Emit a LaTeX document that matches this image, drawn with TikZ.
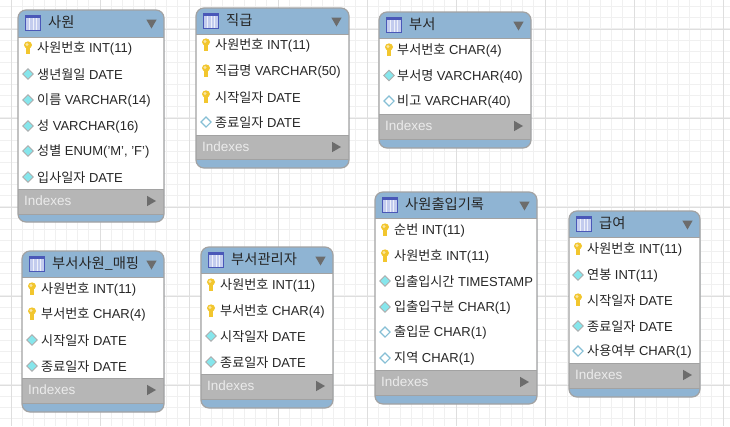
\documentclass[tikz,border=0pt]{standalone}
\usepackage{fontspec}
\setmainfont{Liberation Sans}
\newfontfamily\krfont{Noto Sans CJK KR}
\usetikzlibrary{shapes.geometric,calc}
\definecolor{headblue}{HTML}{8FB4D3}
\definecolor{idxgray}{HTML}{B6B6B6}
\definecolor{framegray}{HTML}{A2A2A2}
\definecolor{markgray}{HTML}{6C6C6C}
\definecolor{keyyellow}{HTML}{F2C62E}
\definecolor{fkcyan}{HTML}{86E6EC}
\definecolor{iconblue}{HTML}{4A58B8}
\definecolor{iconfill}{HTML}{C3CCEE}
\newcommand{\kr}[1]{{\krfont\fontsize{13.1}{15}\selectfont #1}}
\newcommand{\krt}[1]{{\krfont\fontsize{14.3}{15}\selectfont #1}}
\tikzstyle{rowtext}=[anchor=west,inner sep=0pt,text=black!85,yshift=-0.6pt,font=\fontsize{13}{15}\selectfont]
\tikzstyle{titletext}=[anchor=west,inner sep=0pt,text=black!85,font=\fontsize{13.5}{15}\selectfont]
\tikzstyle{idxtext}=[anchor=west,inner sep=0pt,text=white!92!black,font=\fontsize{13.5}{15}\selectfont]
\tikzstyle{fk}=[diamond,draw=black!32,fill=fkcyan,line width=0.9pt,minimum size=11pt,inner sep=0pt]
\tikzstyle{nk}=[diamond,draw=black!30!cyan!55!white,fill=white,line width=1.1pt,minimum size=10.5pt,inner sep=0pt]
\tikzstyle{pk}=[minimum width=10pt,minimum height=14pt,inner sep=0pt,path picture={
  \fill[keyyellow] ([yshift=3pt]path picture bounding box.center) ellipse (4pt and 3.6pt);
  \fill[keyyellow] ([xshift=-2pt,yshift=3pt]path picture bounding box.center) rectangle ([xshift=1.8pt,yshift=-6pt]path picture bounding box.center);
  \fill[white!55!keyyellow] ([xshift=-1pt,yshift=3.5pt]path picture bounding box.center) circle (1.6pt);}]
\tikzstyle{tblicon}=[minimum size=14.5pt,inner sep=0pt,draw=iconblue,fill=iconfill,line width=0.9pt,path picture={
  \fill[iconblue] ([yshift=5pt]path picture bounding box.west) rectangle ([yshift=7.5pt]path picture bounding box.east);
  \foreach \dx in {-3.5,0,3.5}
    \draw[white!70!iconfill,line width=0.7pt] ([xshift=\dx pt,yshift=5pt]path picture bounding box.center) -- ([xshift=\dx pt]path picture bounding box.south);}]
\tikzstyle{downmark}=[regular polygon,regular polygon sides=3,regular polygon rotate=180,fill=markgray,minimum size=12pt,inner sep=0pt]
\tikzstyle{rightmark}=[regular polygon,regular polygon sides=3,regular polygon rotate=-90,fill=markgray,minimum size=12pt,inner sep=0pt]
% name, left, right, top, head end, body end, indexes end, bottom, title
\newcommand{\erbox}[9]{
\fill[headblue,rounded corners=8pt] (#2,#4) rectangle (#3,#8);
\fill[white] (#2,#5) rectangle (#3,#6);
\fill[idxgray] (#2,#6) rectangle (#3,#7);
\draw[framegray,line width=0.8pt] (#2,#5) -- (#3,#5) (#2,#6) -- (#3,#6) (#2,#7) -- (#3,#7);
\draw[framegray,line width=1.2pt,rounded corners=8pt] (#2,#4) rectangle (#3,#8);
\node[tblicon] (#1icon) at ($(#2,#4)+(15,13)$) {};
\node[titletext] (#1title) at ($(#2,#4)+(30,12.5)$) {\krt{#9}};
\node[downmark] (#1down) at ($(#3,#4)+(-12.5,12.5)$) {};
\node[idxtext] (#1idx) at ($(#2,#6)+(6,11.5)$) {Indexes};
\node[rightmark] (#1more) at ($(#3,#6)+(-14,12)$) {};
}
\begin{document}
\begin{tikzpicture}[x=1pt,y=-1pt]
\useasboundingbox (0,0) rectangle (730,426);
\fill[white] (0,0) rectangle (730,426);
% grid
\foreach \i in {0,...,66} \draw[black!6,line width=1pt] (11.125*\i-0.1,0) -- (11.125*\i-0.1,426);
\foreach \j in {0,...,38} \draw[black!6,line width=1pt] (0,11.125*\j-4.4) -- (730,11.125*\j-4.4);
\foreach \i in {0,...,8} \draw[black!13,line width=1pt] (89*\i+11,0) -- (89*\i+11,426);
\foreach \j in {0,...,4} \draw[black!13,line width=1pt] (0,89*\j+29) -- (730,89*\j+29);
% sawon
\erbox{emp}{18}{164}{10}{37}{189}{214}{222}{사원}
\node[pk] (emp1k) at (28,48) {};
\node[rowtext] (emp1) at (37,48) {\kr{사원번호} INT(11)};
\node[fk] (emp2k) at (28,74) {};
\node[rowtext] (emp2) at (37,74) {\kr{생년월일} DATE};
\node[fk] (emp3k) at (28,100) {};
\node[rowtext] (emp3) at (37,100) {\kr{이름} VARCHAR(14)};
\node[fk] (emp4k) at (28,126) {};
\node[rowtext] (emp4) at (37,126) {\kr{성} VARCHAR(16)};
\node[fk] (emp5k) at (28,151) {};
\node[rowtext] (emp5) at (37,151) {\kr{성별} ENUM('M', 'F')};
\node[fk] (emp6k) at (28,177) {};
\node[rowtext] (emp6) at (37,177) {\kr{입사일자} DATE};
% jikgeup
\erbox{job}{196}{349}{8}{34}{135}{159}{168}{직급}
\node[pk] (job1k) at (206,45) {};
\node[rowtext] (job1) at (215,45) {\kr{사원번호} INT(11)};
\node[pk] (job2k) at (206,71) {};
\node[rowtext] (job2) at (215,71) {\kr{직급명} VARCHAR(50)};
\node[pk] (job3k) at (206,97) {};
\node[rowtext] (job3) at (215,97) {\kr{시작일자} DATE};
\node[nk] (job4k) at (206,122) {};
\node[rowtext] (job4) at (215,122) {\kr{종료일자} DATE};
% buseo
\erbox{dep}{379}{531}{12}{38}{114}{139}{148}{부서}
\node[pk] (dep1k) at (389,50) {};
\node[rowtext] (dep1) at (397,50) {\kr{부서번호} CHAR(4)};
\node[fk] (dep2k) at (389,75.5) {};
\node[rowtext] (dep2) at (397,75.5) {\kr{부서명} VARCHAR(40)};
\node[nk] (dep3k) at (389,101) {};
\node[rowtext] (dep3) at (397,101) {\kr{비고} VARCHAR(40)};
% buseo sawon
\erbox{map}{22}{164}{251}{277}{378}{403}{412}{부서사원\_매핑}
\node[pk] (map1k) at (32,289) {};
\node[rowtext] (map1) at (41,289) {\kr{사원번호} INT(11)};
\node[pk] (map2k) at (32,314) {};
\node[rowtext] (map2) at (41,314) {\kr{부서번호} CHAR(4)};
\node[fk] (map3k) at (32,340) {};
\node[rowtext] (map3) at (41,340) {\kr{시작일자} DATE};
\node[fk] (map4k) at (32,366) {};
\node[rowtext] (map4) at (41,366) {\kr{종료일자} DATE};
% buseo gwalli
\erbox{mgr}{201}{333}{247}{273}{374}{399}{408}{부서관리자}
\node[pk] (mgr1k) at (211,285) {};
\node[rowtext] (mgr1) at (220,285) {\kr{사원번호} INT(11)};
\node[pk] (mgr2k) at (211,311) {};
\node[rowtext] (mgr2) at (220,311) {\kr{부서번호} CHAR(4)};
\node[fk] (mgr3k) at (211,336) {};
\node[rowtext] (mgr3) at (220,336) {\kr{시작일자} DATE};
\node[fk] (mgr4k) at (211,362) {};
\node[rowtext] (mgr4) at (220,362) {\kr{종료일자} DATE};
% churip
\erbox{log}{375}{537}{192}{218}{370}{395}{404}{사원출입기록}
\node[pk] (log1k) at (385,230) {};
\node[rowtext] (log1) at (394,230) {\kr{순번} INT(11)};
\node[pk] (log2k) at (385,256) {};
\node[rowtext] (log2) at (394,256) {\kr{사원번호} INT(11)};
\node[fk] (log3k) at (385,281) {};
\node[rowtext] (log3) at (394,281) {\kr{입출입시간} TIMESTAMP};
\node[fk] (log4k) at (385,307) {};
\node[rowtext] (log4) at (394,307) {\kr{입출입구분} CHAR(1)};
\node[nk] (log5k) at (385,332) {};
\node[rowtext] (log5) at (394,332) {\kr{출입문} CHAR(1)};
\node[nk] (log6k) at (385,358) {};
\node[rowtext] (log6) at (394,358) {\kr{지역} CHAR(1)};
% geupyeo
\erbox{pay}{569}{700}{211}{237}{363}{388}{397}{급여}
\node[pk] (pay1k) at (578,249) {};
\node[rowtext] (pay1) at (587,249) {\kr{사원번호} INT(11)};
\node[fk] (pay2k) at (578,275) {};
\node[rowtext] (pay2) at (587,275) {\kr{연봉} INT(11)};
\node[pk] (pay3k) at (578,300) {};
\node[rowtext] (pay3) at (587,300) {\kr{시작일자} DATE};
\node[fk] (pay4k) at (578,326) {};
\node[rowtext] (pay4) at (587,326) {\kr{종료일자} DATE};
\node[nk] (pay5k) at (578,351) {};
\node[rowtext] (pay5) at (587,351) {\kr{사용여부} CHAR(1)};
\end{tikzpicture}
\end{document}
